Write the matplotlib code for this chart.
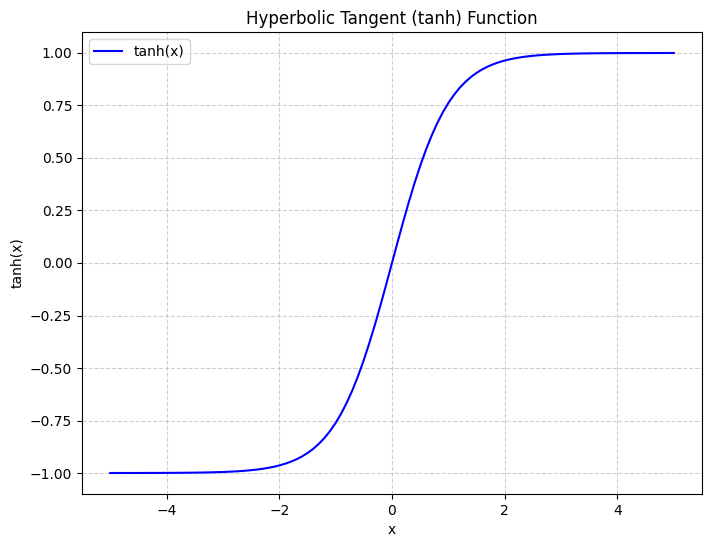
import matplotlib.pyplot as plt

# points, x from -5 to 5 in steps of 0.1
x_vals = [-5.0, -4.9, -4.8, -4.7, -4.6, -4.5, -4.4, -4.3, -4.2, -4.1,
          -4.0, -3.9, -3.8, -3.7, -3.6, -3.5, -3.4, -3.3, -3.2, -3.1,
          -3.0, -2.9, -2.8, -2.7, -2.6, -2.5, -2.4, -2.3, -2.2, -2.1,
          -2.0, -1.9, -1.8, -1.7, -1.6, -1.5, -1.4, -1.3, -1.2, -1.1,
          -1.0, -0.9, -0.8, -0.7, -0.6, -0.5, -0.4, -0.3, -0.2, -0.1,
          0.0, 0.1, 0.2, 0.3, 0.4, 0.5, 0.6, 0.7, 0.8, 0.9,
          1.0, 1.1, 1.2, 1.3, 1.4, 1.5, 1.6, 1.7, 1.8, 1.9,
          2.0, 2.1, 2.2, 2.3, 2.4, 2.5, 2.6, 2.7, 2.8, 2.9,
          3.0, 3.1, 3.2, 3.3, 3.4, 3.5, 3.6, 3.7, 3.8, 3.9,
          4.0, 4.1, 4.2, 4.3, 4.4, 4.5, 4.6, 4.7, 4.8, 4.9, 5.0]
y_vals = [-0.9999, -0.9999, -0.9999, -0.9998, -0.9998, -0.9998, -0.9997, -0.9996, -0.9996, -0.9995,
          -0.9993, -0.9992, -0.9990, -0.9988, -0.9985, -0.9982, -0.9978, -0.9973, -0.9967, -0.9959,
          -0.9951, -0.9940, -0.9926, -0.9910, -0.9890, -0.9866, -0.9837, -0.9801, -0.9757, -0.9705,
          -0.9640, -0.9562, -0.9468, -0.9354, -0.9217, -0.9051, -0.8854, -0.8617, -0.8337, -0.8005,
          -0.7616, -0.7163, -0.6640, -0.6044, -0.5370, -0.4621, -0.3799, -0.2913, -0.1974, -0.0997,
          0.0, 0.0997, 0.1974, 0.2913, 0.3799, 0.4621, 0.5370, 0.6044, 0.6640, 0.7163,
          0.7616, 0.8005, 0.8337, 0.8617, 0.8854, 0.9051, 0.9217, 0.9354, 0.9468, 0.9562,
          0.9640, 0.9705, 0.9757, 0.9801, 0.9837, 0.9866, 0.9890, 0.9910, 0.9926, 0.9940,
          0.9951, 0.9959, 0.9967, 0.9973, 0.9978, 0.9982, 0.9985, 0.9988, 0.9990, 0.9992,
          0.9993, 0.9995, 0.9996, 0.9996, 0.9997, 0.9998, 0.9998, 0.9998, 0.9999, 0.9999, 0.9999]

fig = plt.figure(figsize=(7.11, 5.47), dpi=100)
ax = fig.add_axes([0.1153, 0.0969, 0.872, 0.8446])

ax.plot(x_vals, y_vals, color='blue', label='tanh(x)')
ax.set_title('Hyperbolic Tangent (tanh) Function')
ax.set_xlabel('x')
ax.set_ylabel('tanh(x)')
ax.grid(True, linestyle='--', alpha=0.6)
ax.legend(loc='upper left')

fig.savefig('out.png', dpi=100)
